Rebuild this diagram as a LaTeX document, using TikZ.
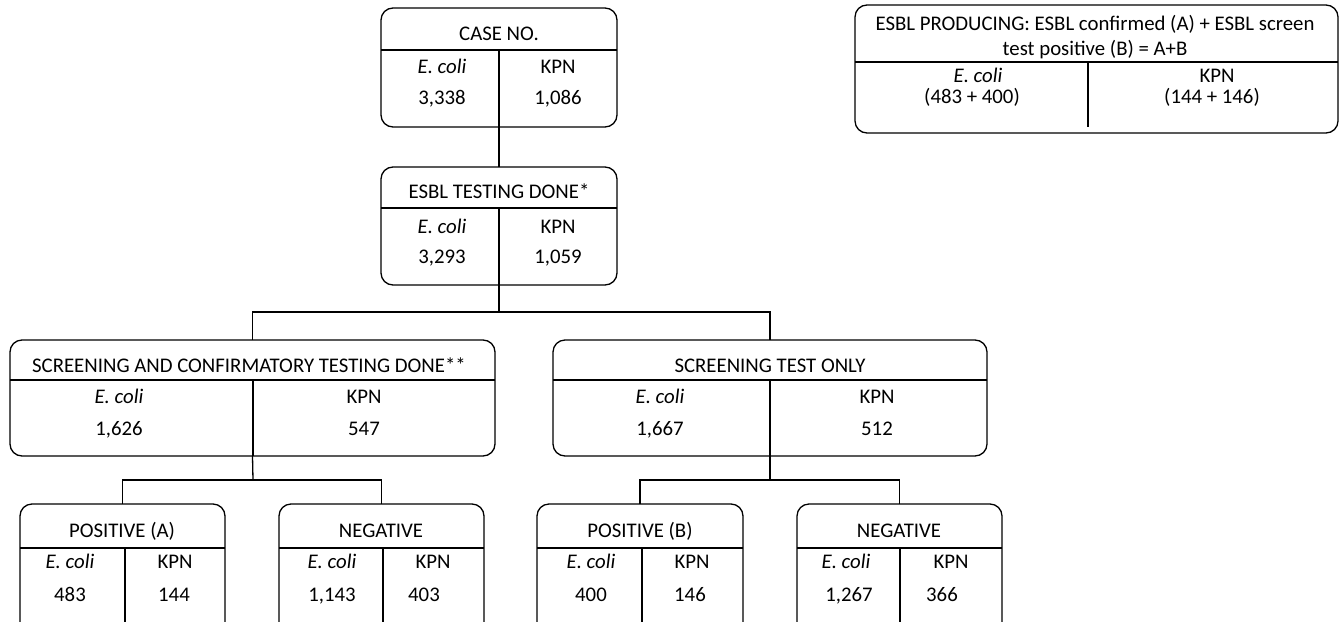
\documentclass[tikz,border=0pt]{standalone}
\usepackage{fontspec}
\setmainfont{Carlito}
\begin{document}
\begin{tikzpicture}[x=1pt,y=-1pt,
  box/.style={draw, line width=1.3pt, rounded corners=12pt, inner sep=0pt, outer sep=0pt, anchor=north west},
  rule/.style={line width=1.3pt},
  conn/.style={line width=1.3pt},
  txt/.style={anchor=base, inner sep=0pt, font=\fontsize{20.8}{25}\selectfont}]
\useasboundingbox (0,0) rectangle (1340,621);
\clip (0,0) rectangle (1340,621);
\newcommand\tabbox[7]{%
  \node[box, minimum width={#4-#2}, minimum height={#5-#3}] (#1) at (#2,#3) {};
  \draw[rule] (#2,#6) -- (#4,#6);
  \draw[rule] (#7,#6) -- (#7,#5);
}
% CASE NO.
\tabbox{case}{381}{8}{617}{127}{50}{499}
\node[txt] (caseh) at (499,40) {CASE NO.};
\node[txt] (casee) at (442,73) {\itshape E. coli};
\node[txt] (casek) at (558,73) {KPN};
\node[txt] (casen1) at (442,104) {3,338};
\node[txt] (casen2) at (558,104) {1,086};
% ESBL TESTING DONE
\tabbox{esbl}{381}{167}{617}{285}{208}{499}
\node[txt] (esblh) at (499,198) {ESBL TESTING DONE*};
\node[txt] (esble) at (442,233) {\itshape E. coli};
\node[txt] (esblk) at (558,233) {KPN};
\node[txt] (esbln1) at (442,263) {3,293};
\node[txt] (esbln2) at (558,263) {1,059};
% SCREENING AND CONFIRMATORY
\tabbox{scr}{10}{340}{495}{456}{380}{253}
\node[txt] (scrh) at (249,372) {SCREENING AND CONFIRMATORY TESTING DONE**};
\node[txt] (scre) at (119,403) {\itshape E. coli};
\node[txt] (scrk) at (364,403) {KPN};
\node[txt] (scrn1) at (119,435) {1,626};
\node[txt] (scrn2) at (364,435) {547};
% SCREENING TEST ONLY
\tabbox{sto}{553}{340}{987}{456}{380}{770}
\node[txt] (stoh) at (770,372) {SCREENING TEST ONLY};
\node[txt] (stoe) at (660,403) {\itshape E. coli};
\node[txt] (stok) at (877,403) {KPN};
\node[txt] (ston1) at (660,435) {1,667};
\node[txt] (ston2) at (877,435) {512};
% POSITIVE (A)
\tabbox{posa}{20}{504}{225}{645}{548}{125}
\node[txt] (posah) at (122,537) {POSITIVE (A)};
\node[txt] (posae) at (70,568) {\itshape E. coli};
\node[txt] (posak) at (175,568) {KPN};
\node[txt] (posan1) at (70,601) {483};
\node[txt] (posan2) at (174,601) {144};
% NEGATIVE (A side)
\tabbox{nega}{279}{504}{484}{645}{548}{383}
\node[txt] (negah) at (381,537) {NEGATIVE};
\node[txt] (negae) at (332,568) {\itshape E. coli};
\node[txt] (negak) at (433,568) {KPN};
\node[txt] (negan1) at (332,601) {1,143};
\node[txt] (negan2) at (424,601) {403};
% POSITIVE (B)
\tabbox{posb}{537}{504}{743}{645}{548}{642}
\node[txt] (posbh) at (640,537) {POSITIVE (B)};
\node[txt] (posbe) at (591,568) {\itshape E. coli};
\node[txt] (posbk) at (692,568) {KPN};
\node[txt] (posbn1) at (591,601) {400};
\node[txt] (posbn2) at (690,601) {146};
% NEGATIVE (B side)
\tabbox{negb}{797}{504}{1002}{645}{548}{900}
\node[txt] (negbh) at (899,537) {NEGATIVE};
\node[txt] (negbe) at (846,568) {\itshape E. coli};
\node[txt] (negbk) at (951,568) {KPN};
\node[txt] (negbn1) at (849,601) {1,267};
\node[txt] (negbn2) at (942,601) {366};
% ESBL PRODUCING
\node[box, minimum width=483, minimum height=128] (prod) at (855,5) {};
\draw[rule] (855,62) -- (1338,62);
\draw[rule] (1088,62) -- (1088,127);
\node[txt] (prodh1) at (1095,30) {ESBL PRODUCING: ESBL confirmed (A) + ESBL screen};
\node[txt] (prodh2) at (1095,55) {test positive (B) = A+B};
\node[txt] (prode) at (978,82) {\itshape E. coli};
\node[txt] (prodk) at (1217,82) {KPN};
\node[txt] (prodn1) at (972,103) {(483 + 400)};
\node[txt] (prodn2) at (1212,103) {(144 + 146)};
% connectors
\draw[conn] (case.south) -- (esbl.north);
\coordinate (split1) at (499,312);
\draw[conn] (esbl.south) -- (split1);
\draw[conn] (split1) -| (scr.north);
\draw[conn] (split1) -| (sto.north);
\coordinate (split2) at (253,480);
\draw[conn] (scr.south) -- (split2);
\draw[conn] (split2) -| (posa.north);
\draw[conn] (split2) -| (nega.north);
\coordinate (split3) at (770,480);
\draw[conn] (sto.south) -- (split3);
\draw[conn] (split3) -| (posb.north);
\draw[conn] (split3) -| (negb.north);
\end{tikzpicture}
\end{document}
